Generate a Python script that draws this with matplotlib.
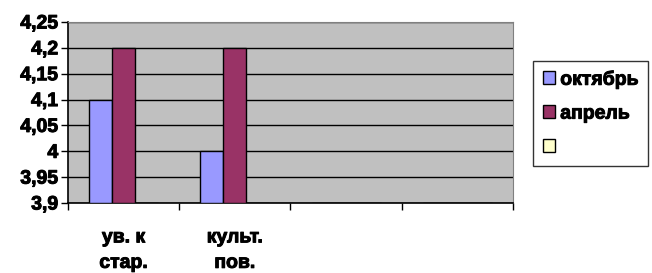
import numpy as np
import matplotlib.pyplot as plt
import matplotlib.patheffects as pe
from matplotlib import font_manager
from matplotlib.patches import Patch
from matplotlib.ticker import FuncFormatter, MultipleLocator

categories = ["ув. к\nстар.", "культ.\nпов.", "", ""]
october = [4.1, 4.0, np.nan, np.nan]
april = [4.2, 4.2, np.nan, np.nan]
third = [np.nan, np.nan, np.nan, np.nan]
series_names = ["октябрь", "апрель", " "]
colors = ["#9999FF", "#993366", "#FFFFCC"]

FS = 14
bold_path = font_manager.findfont(font_manager.FontProperties(family="Liberation Sans", weight="bold"))
bold = font_manager.FontProperties(fname=bold_path, size=FS)
heavy = [pe.withStroke(linewidth=0.7, foreground="black")]

fig = plt.figure(figsize=(6.52, 2.73), dpi=100)
ax = fig.add_axes([68 / 652, 1 - 203 / 273, (513 - 68) / 652, (203 - 22) / 273])

x = np.arange(len(categories))
w = 0.207
for i, (vals, c) in enumerate(zip([october, april, third], colors)):
    ax.bar(x + (i - 1) * w, np.nan_to_num(np.array(vals) - 3.9, nan=0.0), w, bottom=3.9,
           color=c, edgecolor="black", linewidth=1.0, zorder=3)

ax.set_facecolor("#C0C0C0")
ax.set_xlim(-0.5, len(categories) - 0.5)
ax.set_ylim(3.9, 4.25)
ax.yaxis.set_major_locator(MultipleLocator(0.05))
ax.yaxis.set_major_formatter(FuncFormatter(lambda v, p: f"{round(v, 2):g}".replace(".", ",")))
ax.grid(axis="y", color="black", linewidth=1.0, zorder=1)
ax.set_axisbelow(True)

ax.set_xticks(np.arange(len(categories) + 1) - 0.5)
ax.set_xticklabels([])
ax.set_xticks(x, minor=True)
ax.set_xticklabels(categories, minor=True, fontproperties=bold, linespacing=1.65)
ax.tick_params(axis="x", which="minor", length=0, pad=19)
ax.tick_params(axis="x", which="major", length=5, width=1, direction="out")
ax.tick_params(axis="y", length=5, width=1, direction="out", pad=2)
fig.canvas.draw()
for lab in ax.get_yticklabels() + ax.get_xticklabels(minor=True):
    lab.set_fontproperties(bold)
    lab.set_path_effects(heavy)

ax.spines["left"].set_color("black")
ax.spines["bottom"].set_color("black")
ax.spines["left"].set_linewidth(1.2)
ax.spines["bottom"].set_linewidth(1.2)
ax.spines["top"].set_color("#808080")
ax.spines["right"].set_color("#808080")

handles = [Patch(facecolor=c, edgecolor="black", linewidth=1.0) for c in colors]
leg = fig.legend(handles, series_names, loc="upper left",
                 bbox_to_anchor=(533 / 652, 1 - 61 / 273), frameon=True,
                 fancybox=False, edgecolor="black", handlelength=0.65,
                 handleheight=0.65, handletextpad=0.25, labelspacing=0.85, borderpad=0.5,
                 borderaxespad=0, prop=bold)
leg.get_frame().set_linewidth(1.0)
for t in leg.get_texts():
    t.set_path_effects(heavy)

fig.savefig("out.png", dpi=100)
